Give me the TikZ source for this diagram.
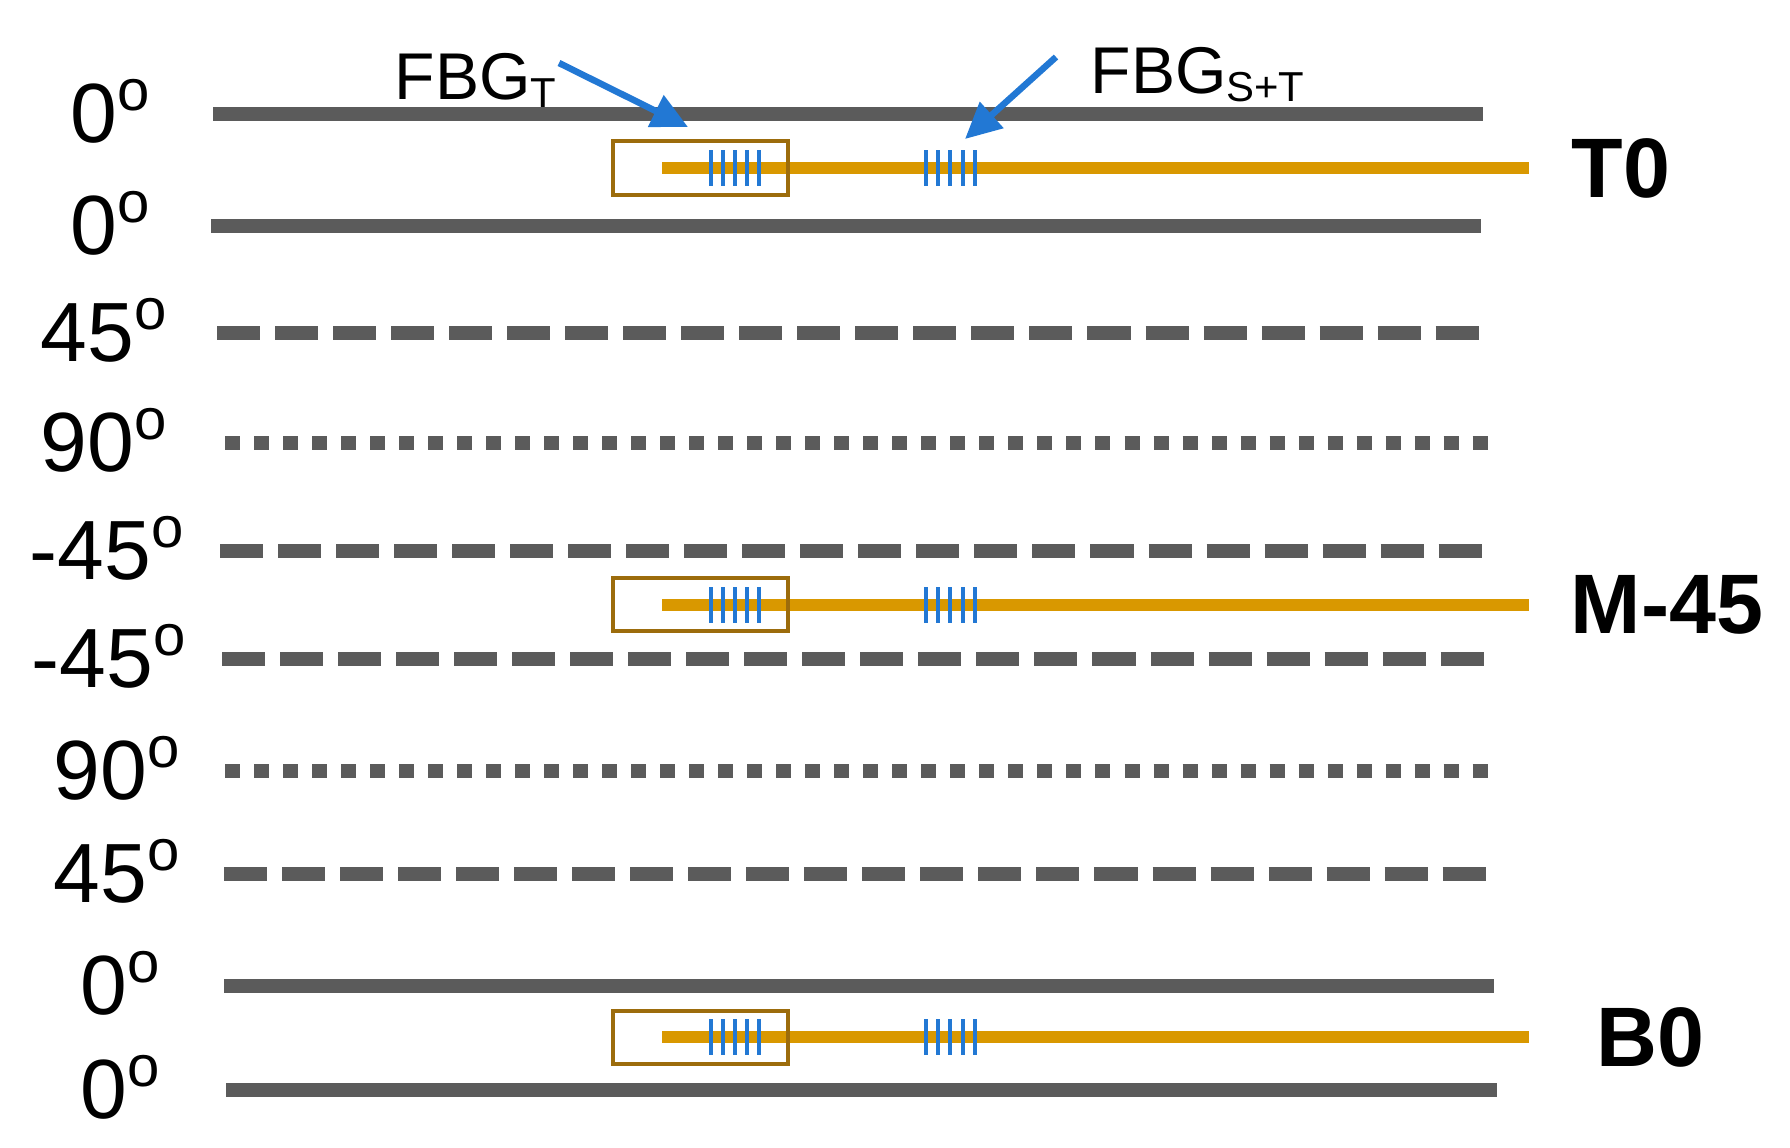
\documentclass[tikz,border=0pt]{standalone}
\usepackage{fontspec}
\setmainfont{Liberation Sans}
\usetikzlibrary{arrows.meta}

\definecolor{plygray}{RGB}{91,91,91}
\definecolor{fibreorange}{RGB}{217,152,0}
\definecolor{boxbrown}{RGB}{156,108,12}
\definecolor{fbgblue}{RGB}{34,120,212}

\newcommand{\angsup}{{\fontsize{16.5}{17}\selectfont\raisebox{9pt}{o}}}

\tikzset{
  solidply/.style={line width=0.14cm, color=plygray},
  dashply/.style={solidply, dash pattern=on 0.43cm off 0.15cm},
  dotply/.style={solidply, dash pattern=on 0.15cm off 0.14cm},
  fibre/.style={line width=0.12cm, color=fibreorange},
  fbgbox/.style={line width=0.035cm, draw=boxbrown},
  grating/.style={line width=0.035cm, color=fbgblue},
  fbgarrow/.style={-{Triangle[length=0.36cm,width=0.34cm]}, line width=0.065cm, color=fbgblue},
  anglabel/.style={anchor=base east, inner sep=0pt, font=\fontsize{23.9}{28}\selectfont},
  laylabel/.style={anchor=west, inner sep=0pt, font=\bfseries\fontsize{24}{28}\selectfont},
  fbglabel/.style={anchor=base west, inner sep=0pt, font=\fontsize{18.8}{22}\selectfont}
}

\begin{document}
\begin{tikzpicture}[x=0.01cm,y=-0.01cm]
\useasboundingbox (0,0) rectangle (1790,1148);

% plies
\draw[solidply] (213,114) -- (1483,114);
\draw[solidply] (211,226) -- (1481,226);
\draw[dashply] (217,333) -- (1482,333);
\draw[dotply] (225,443) -- (1490,443);
\draw[dashply] (220,551) -- (1486,551);
\draw[dashply] (222,659) -- (1489,659);
\draw[dotply] (225,771) -- (1493,771);
\draw[dashply] (224,874) -- (1491,874);
\draw[solidply] (224,986) -- (1494,986);
\draw[solidply] (226,1090) -- (1497,1090);

% ply angles
\node[anglabel] (a1) at (150,142) {0\angsup};
\node[anglabel] (a2) at (150,254) {0\angsup};
\node[anglabel] (a3) at (167,361) {45\angsup};
\node[anglabel] (a4) at (167,471) {90\angsup};
\node[anglabel] (a5) at (184,579) {-45\angsup};
\node[anglabel] (a6) at (186,687) {-45\angsup};
\node[anglabel] (a7) at (180,799) {90\angsup};
\node[anglabel] (a8) at (180,902) {45\angsup};
\node[anglabel] (a9) at (160,1014) {0\angsup};
\node[anglabel] (a10) at (160,1118) {0\angsup};

% fibres
\draw[fibre] (662,168) -- (1529,168);
\draw[fibre] (662,605) -- (1529,605);
\draw[fibre] (662,1037) -- (1529,1037);

% capillary around FBG_T
\draw[fbgbox] (613,141) rectangle (788,195);
\draw[fbgbox] (613,578) rectangle (788,631);
\draw[fbgbox] (613,1011) rectangle (788,1064);

% gratings
\foreach \yy in {168,605,1037} {
  \foreach \xx in {711,723,735,747,759,926,938,950,963,975}
    \draw[grating] (\xx,\yy-18) -- (\xx,\yy+18);
}

% layer names
\node[laylabel] (t0) at (1571,168) {T0};
\node[laylabel] (m45) at (1570,605) {M-45};
\node[laylabel] (b0) at (1596,1037) {B0};

% sensor labels
\node[fbglabel] (fbgT) at (394,99) {FBG\raisebox{-2.3pt}{\fontsize{11.9}{12}\selectfont T}};
\node[fbglabel] (fbgST) at (1090,93) {FBG\raisebox{-2.3pt}{\fontsize{11.9}{12}\selectfont S+T}};
\coordinate (tailT) at (559,63);
\coordinate (tipT) at (688,127);
\coordinate (tailST) at (1056,57);
\coordinate (tipST) at (965,139);
\draw[fbgarrow] (tailT) -- (tipT);
\draw[fbgarrow] (tailST) -- (tipST);
\end{tikzpicture}
\end{document}
